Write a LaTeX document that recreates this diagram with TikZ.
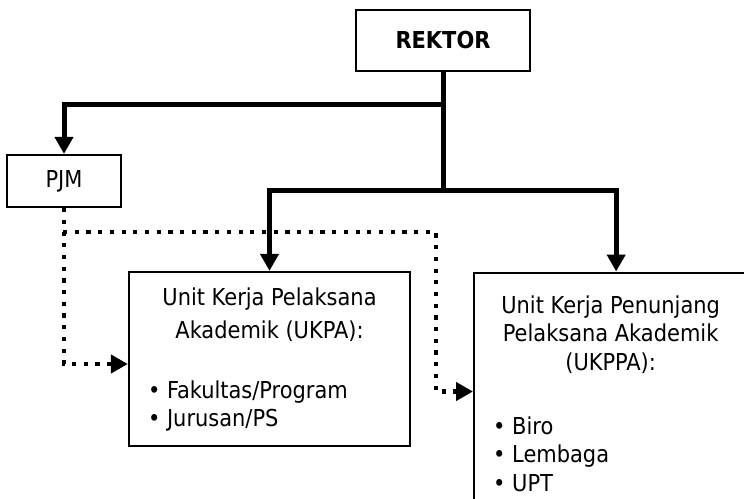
\documentclass[tikz,border=0pt]{standalone}
\usepackage{fontspec}
\setmainfont{DejaVu Sans Condensed}
\usetikzlibrary{arrows.meta,positioning}

\begin{document}
	\begin{tikzpicture}[x=1pt, y=-1pt,
		font=\fontsize{23.3}{28.5}\selectfont,
		box/.style={draw, line width=2.3pt, inner sep=0pt},
		txt/.style={inner sep=0pt},
		thickline/.style={line width=5pt},
		headarrow/.style={-{Triangle[width=18pt,length=17pt]}},
		dotline/.style={line width=4.2pt, dash pattern=on 4.2pt off 7.5pt}]
		\useasboundingbox (0,0) rectangle (744,498);
		\clip (0,0) rectangle (744,498);
		\node[box, minimum width=174pt, minimum height=61pt] (rektor) at (443,40.5) {\bfseries REKTOR};
		\node[box, minimum width=114pt, minimum height=52pt] (pjm) at (64,181) {PJM};
		\node[box, minimum width=281pt, minimum height=174pt] (ukpa) at (269.5,359) {};
		\node[box, anchor=north west, minimum width=273pt, minimum height=250pt] (ukppa) at (473,271.5) {};
		\node[txt, anchor=base, align=center] (ukpatitle) at ([yshift=-68pt]ukpa.north) {Unit Kerja Pelaksana\\[4.5pt] Akademik (UKPA):};
		\node[txt, anchor=base west, align=left] (ukpalist) at ([xshift=20pt, yshift=-156pt]ukpa.north west) {• Fakultas/Program\\ • Jurusan/PS};
		\node[txt, anchor=base, align=center] (ukppatitle) at ([yshift=-98.5pt]ukppa.north) {Unit Kerja Penunjang\\ Pelaksana Akademik\\ (UKPPA):};
		\node[txt, anchor=base west, align=left] (ukppalist) at ([xshift=20pt, yshift=-219.5pt]ukppa.north west) {• Biro\\ • Lembaga\\ • UPT};
		\coordinate (fork) at (443,104);
		\coordinate (bus) at (443,190);
		\coordinate (dotfork) at (63,232);
		\draw[thickline] (rektor.south) -- (bus);
		\draw[thickline, headarrow] (fork) -| (pjm);
		\draw[thickline, headarrow] (bus) -| (ukpa);
		\draw[thickline, headarrow] (bus) -| ([xshift=5.5pt]ukppa.north);
		\draw[dotline, headarrow] (pjm) |- ([yshift=-5pt]ukpa.west);
		\draw[dotline, headarrow] (dotfork) -- ++(373,0) |- ([yshift=-120pt]ukppa.north west);
	\end{tikzpicture}
\end{document}
